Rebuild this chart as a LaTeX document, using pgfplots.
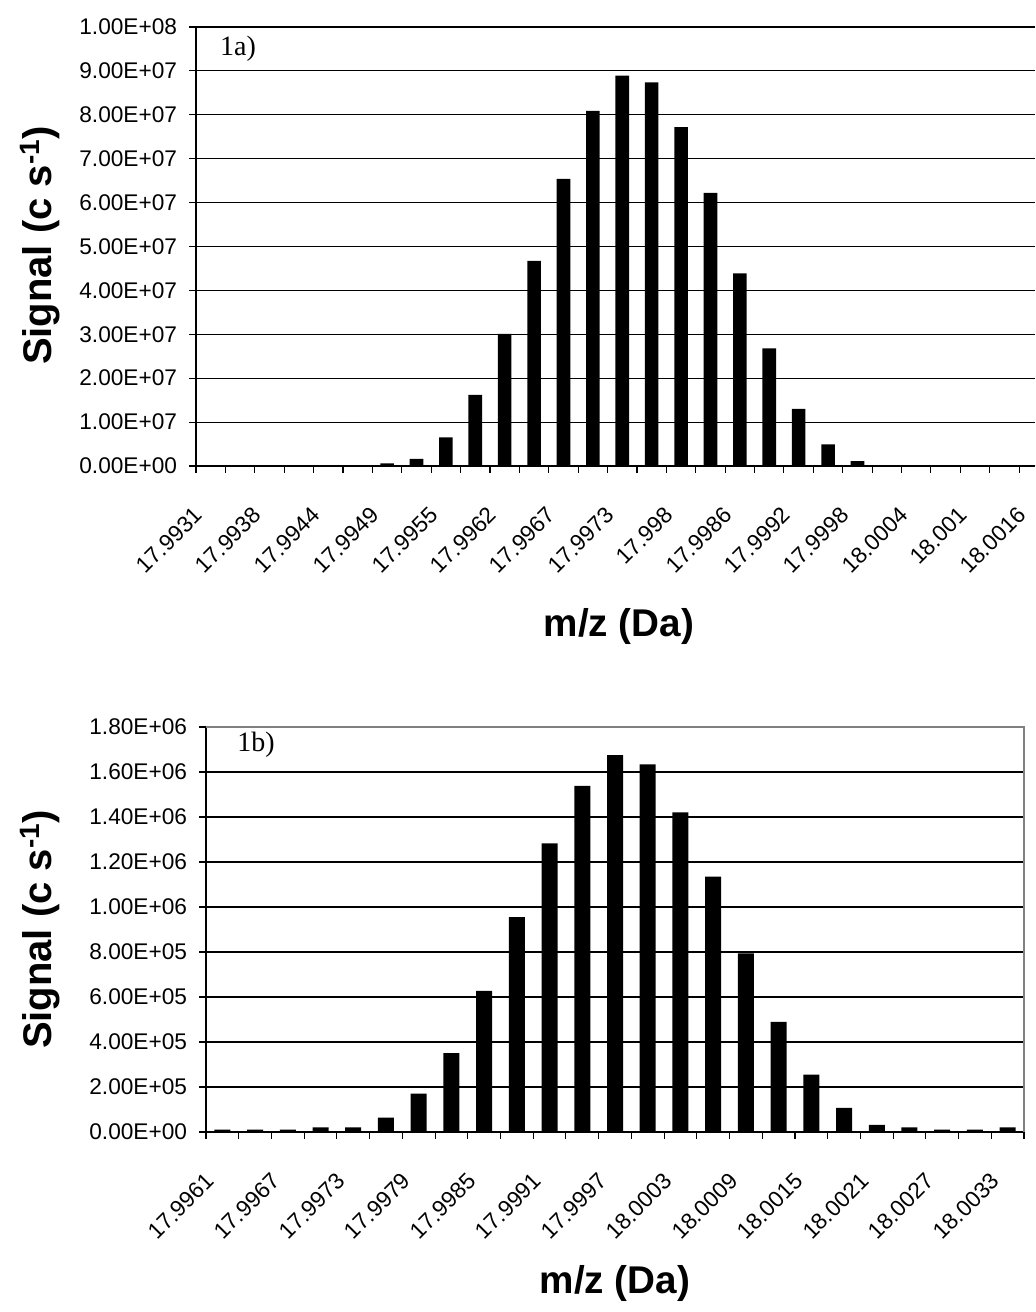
\documentclass[border=0pt]{standalone}
\usepackage{pgfplots}
\pgfplotsset{compat=1.18}
\usepackage{fontspec}
\setmainfont{Liberation Sans}
\newfontfamily\seriffont{Liberation Serif}

\pgfplotstableread{
x y
0 0
1 0
2 0
3 0
4 0
5 0
6 6e5
7 1.6e6
8 6.5e6
9 1.62e7
10 3.01e7
11 4.67e7
12 6.54e7
13 8.09e7
14 8.89e7
15 8.74e7
16 7.72e7
17 6.22e7
18 4.39e7
19 2.68e7
20 1.30e7
21 4.9e6
22 1.1e6
23 0
24 0
25 0
26 0
27 0
28 0
}\dataA

\pgfplotstableread{
x y
0 1e4
1 1e4
2 1e4
3 2e4
4 2e4
5 6.4e4
6 1.70e5
7 3.50e5
8 6.27e5
9 9.55e5
10 1.283e6
11 1.538e6
12 1.675e6
13 1.634e6
14 1.421e6
15 1.135e6
16 7.94e5
17 4.89e5
18 2.55e5
19 1.07e5
20 3.2e4
21 2e4
22 1e4
23 1e4
24 2e4
}\dataB

\pgfplotsset{
  excelbar/.style={
    scale only axis,
    axis lines=left,
    axis line style={-, black, line width=0.9pt},
    ymajorgrids,
    grid style={black, line width=0.8pt},
    tick align=outside,
    major tick length=5pt,
    minor tick length=5.25pt,
    tick style={black, line width=0.8pt},
    major x tick style={draw=none},
    scaled y ticks=false,
    xticklabel style={xshift=-13.5pt, yshift=-24.5pt, rotate=45, anchor=north east, inner sep=0pt, font=\fontsize{17}{20}\selectfont},
    yticklabel style={anchor=east, inner sep=0pt, font=\fontsize{17}{20}\selectfont},
    yticklabel shift=9pt,
    ymin=0,
    clip=false,
  }
}

\begin{document}
\begin{tikzpicture}
% Panel a
\begin{axis}[excelbar,
  at={(147pt,634.5pt)}, anchor=south west,
  width=629.25pt, height=329.25pt,
  xmin=-0.5, xmax=28.04,
  ymax=1e8,
  xtick={0,2,...,28},
  minor xtick={-0.5,0.5,...,27.5},
  xticklabels={17.9931,17.9938,17.9944,17.9949,17.9955,17.9962,17.9967,17.9973,17.998,17.9986,17.9992,17.9998,18.0004,18.001,18.0016},
  ytick={0,1e7,2e7,3e7,4e7,5e7,6e7,7e7,8e7,9e7,1e8},
  yticklabels={0.00E+00,1.00E+07,2.00E+07,3.00E+07,4.00E+07,5.00E+07,6.00E+07,7.00E+07,8.00E+07,9.00E+07,1.00E+08},
]
\addplot[ybar, bar width=10.2pt, fill=black, draw=none] table[x=x,y=y] {\dataA};
\end{axis}

% Panel b
\begin{axis}[excelbar,
  at={(154.5pt,135pt)}, anchor=south west,
  width=613.5pt, height=303.75pt,
  xmin=-0.5, xmax=24.5,
  ymax=1.8e6,
  xtick={0,2,...,24},
  minor xtick={-0.5,0.5,...,24.5},
  xticklabels={17.9961,17.9967,17.9973,17.9979,17.9985,17.9991,17.9997,18.0003,18.0009,18.0015,18.0021,18.0027,18.0033},
  ytick={0,2e5,4e5,6e5,8e5,1e6,1.2e6,1.4e6,1.6e6,1.8e6},
  yticklabels={0.00E+00,2.00E+05,4.00E+05,6.00E+05,8.00E+05,1.00E+06,1.20E+06,1.40E+06,1.60E+06,1.80E+06},
]
\addplot[ybar, bar width=12pt, fill=black, draw=none] table[x=x,y=y] {\dataB};
\draw[gray, line width=1.5pt] (rel axis cs:0,1) -- (rel axis cs:1,1) -- (rel axis cs:1,0);
\end{axis}

% Labels
\node[rotate=90, font=\fontsize{30}{36}\selectfont\bfseries] at (30pt,799.9pt) {Signal (c s\textsuperscript{-1})};
\node[rotate=90, font=\fontsize{30}{36}\selectfont\bfseries] at (30pt,286.9pt) {Signal (c s\textsuperscript{-1})};
\node[font=\fontsize{29}{34}\selectfont\bfseries] at (464.25pt,513.75pt) {m/z (Da)};
\node[font=\fontsize{29}{34}\selectfont\bfseries] at (461.25pt,21pt) {m/z (Da)};
\node[font=\seriffont\fontsize{21}{25}\selectfont, inner sep=0pt] at (178.5pt,947.25pt) {1a)};
\node[font=\seriffont\fontsize{21}{25}\selectfont, inner sep=0pt] at (192pt,425.25pt) {1b)};

\pgfresetboundingbox
\path (0,0) rectangle (776.25pt,984pt);
\end{tikzpicture}
\end{document}
